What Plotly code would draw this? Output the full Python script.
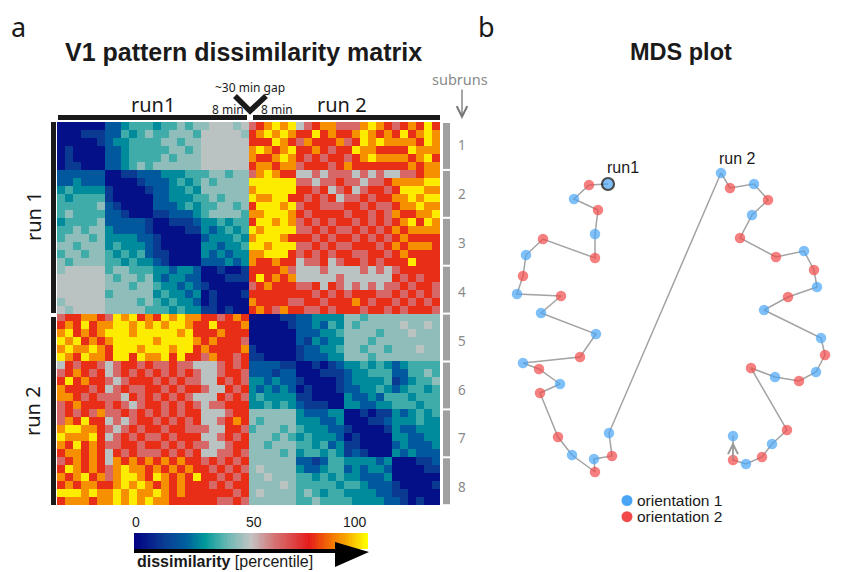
import plotly.graph_objects as go

# browser page has an 8px body margin: the figure is offset by it
PAGE_W, PAGE_H, OFF = 866, 572, 8
W, H = PAGE_W - 2 * OFF, PAGE_H - OFF

# ---------------- data ----------------
# percentile value for each colour code read from the matrix cells
LEVEL = {'0': 3, '1': 12, '2': 20, '3': 28, '4': 36, '5': 44, '6': 49,
         '7': 62, '8': 77, '9': 88, 'y': 98}

# lower triangle of the symmetric 48x48 dissimilarity matrix (row i: cols 0..i)
RUN1_RUN1 = [
    "0", "00", "000", "0100", "01000", "011000",
    "222222 0", "223222 00", "343333 100", "434444 1000", "444445 21000", "454444 221000",
    "344445 222221 0", "445455 322221 00", "455545 333322 100", "554555 343332 1000",
    "455455 434342 11000", "545555 443433 210000",
    "566666 455444 332332 0", "666666 545545 323322 00", "666666 555455 433232 100",
    "666666 455555 343323 0100", "566666 555545 434332 01000", "656666 555554 443433 110100",
]
RUN2_RUN1 = [
    "788998 7y9y89 8y9y99 887898",
    "898y89 9yy9y9 y9yy98 8y8889",
    "9y8989 yyy9yy yyy9y8 889888",
    "y9y898 9yyyyy 9yyyy9 898887",
    "9y99y9 8yyy9y yy9yy8 988889",
    "y98y99 8yy8y9 9y8y88 798878",
    "687887 678878 778776 667878",
    "789878 678787 878787 667887",
    "8y8988 767888 787877 668787",
    "988878 678778 878788 766878",
    "998787 776878 787876 668787",
    "789888 787678 878787 677888",
    "787879 778787 878788 666788",
    "798y88 676788 787878 667898",
    "9yy998 767878 878877 766887",
    "y999y8 678787 787888 667878",
    "98y898 778878 878787 766788",
    "899898 687877 787878 667787",
    "789898 698989 898988 787878",
    "8y9898 79y998 989898 878787",
    "989y89 79yy98 y9898y 887878",
    "898998 89y9y9 898988 878788",
    "yyy9y9 9y9y99 y98988 888878",
    "899989 9y9y9y 998888 887787",
]
RUN2_RUN2 = [
    "0", "00", "000", "0000", "10000", "110000",
    "222211 0", "222122 00", "332322 100", "323232 0100", "343333 11000", "334343 211100",
    "555555 322233 0", "545555 333223 00", "455545 433322 100", "555454 343332 0100",
    "554555 443423 11000", "555545 344343 121000",
    "555555 221244 333323 0", "565555 322344 232332 00", "556555 443434 332223 000",
    "555565 444443 443222 1000", "565555 454344 333322 11000", "555555 445444 433332 210100",
]
SUBRUN_LABELS = ["1", "2", "3", "4", "5", "6", "7", "8"]
CBAR_TICKS = ["0", "50", "100"]

# MDS coordinates (arbitrary units), in temporal order; orientation 1 / 2
MDS_X = [-0.62, -0.81, -0.96, -0.72, -0.75, -0.75, -1.27, -1.44, -1.47, -1.53, -1.09, -1.29,
         -0.74, -0.90, -1.47, -1.31, -1.10, -1.30, -1.12, -0.98, -0.75, -0.76, -0.58, -0.61,
         0.51, 0.60, 0.84, 0.98, 0.82, 0.70, 1.06, 1.34, 1.44, 1.47, 1.18, 0.94,
         1.51, 1.55, 1.46, 1.29, 1.05, 0.81, 1.17, 1.02, 0.92, 0.76, 0.63, 0.63]
MDS_Y = [1.36, 1.35, 1.21, 1.10, 0.86, 0.62, 0.81, 0.65, 0.44, 0.26, 0.24, 0.07,
         -0.14, -0.37, -0.43, -0.49, -0.64, -0.73, -1.17, -1.35, -1.52, -1.39, -1.36, -1.13,
         1.47, 1.32, 1.36, 1.20, 1.05, 0.82, 0.63, 0.69, 0.50, 0.33, 0.23, 0.10,
         -0.18, -0.35, -0.52, -0.61, -0.57, -0.48, -1.10, -1.24, -1.37, -1.44, -1.40, -1.16]
ORIENT = [1, 2, 1, 2, 1, 2, 2, 1, 2, 1, 2, 1] * 4

# ---------------- build matrix ----------------
lower = [s.replace(" ", "") for s in RUN1_RUN1] + \
        [(a + b).replace(" ", "") for a, b in zip(RUN2_RUN1, RUN2_RUN2)]
N = len(lower)
Z = [[LEVEL[lower[max(i, j)][min(i, j)]] for j in range(N)] for i in range(N)]

CSCALE = [[0.0, '#020285'], [0.12, '#0a3a92'], [0.22, '#00609e'], [0.30, '#00999b'],
          [0.40, '#6bb8b4'], [0.50, '#c4c4c4'], [0.60, '#d47474'], [0.75, '#e51c1c'],
          [0.85, '#f47800'], [0.92, '#f8b000'], [1.0, '#ffff00']]


def X(p):
    return (p - OFF) / W


def Y(p):
    return 1 - (p - OFF) / H


fig = go.Figure()
fig.add_trace(go.Heatmap(z=Z, x=list(range(N)), y=list(range(N)), colorscale=CSCALE,
                         zmin=0, zmax=100, showscale=False, xaxis='x', yaxis='y',
                         hoverinfo='skip'))
ramp = list(range(0, 101))
fig.add_trace(go.Heatmap(z=[ramp], x=ramp, y=[0], colorscale=CSCALE, zmin=0, zmax=100,
                         showscale=False, xaxis='x3', yaxis='y3', hoverinfo='skip'))

# MDS
fig.add_trace(go.Scatter(x=MDS_X, y=MDS_Y, mode='lines', xaxis='x2', yaxis='y2',
                         line=dict(color='#a3a3a3', width=1.5), hoverinfo='skip'))
BLUE, RED = '#4aa5f7', '#f24a4a'
for o, col in [(1, BLUE), (2, RED)]:
    idx = [k for k in range(len(MDS_X)) if ORIENT[k] == o]
    fig.add_trace(go.Scatter(
        x=[MDS_X[k] for k in idx], y=[MDS_Y[k] for k in idx], mode='markers',
        xaxis='x2', yaxis='y2',
        marker=dict(color=col, size=[12 if k == 0 else 10.5 for k in idx],
                    line=dict(color='black', width=[2.2 if k == 0 else 0 for k in idx]))))

ax_hidden = dict(visible=False, showgrid=False, zeroline=False, fixedrange=True)
fig.update_layout(
    width=W, height=H, margin=dict(l=0, r=0, t=0, b=0),
    paper_bgcolor='white', plot_bgcolor='white', showlegend=False,
    font=dict(family='Liberation Sans', color='#1a1a1a'),
    xaxis=dict(domain=[X(57), X(440)], range=[-0.5, N - 0.5], **ax_hidden),
    yaxis=dict(domain=[Y(505), Y(122)], range=[N - 0.5, -0.5], **ax_hidden),
    xaxis2=dict(domain=[X(500), X(840)], range=[-1.7, 1.7], **ax_hidden),
    yaxis2=dict(domain=[Y(480), Y(160)], range=[-1.6, 1.6], **ax_hidden),
    xaxis3=dict(domain=[X(134), X(368)], range=[-0.5, 100.5], **ax_hidden),
    yaxis3=dict(domain=[Y(549), Y(533)], range=[-0.5, 0.5], **ax_hidden),
)

shapes = []
# top run bars
shapes.append(dict(type='rect', xref='paper', yref='paper', x0=X(58), x1=X(247), y0=Y(120), y1=Y(115),
                   fillcolor='#1a1a1a', line_width=0))
shapes.append(dict(type='rect', xref='paper', yref='paper', x0=X(253), x1=X(440), y0=Y(120), y1=Y(115),
                   fillcolor='#1a1a1a', line_width=0))
# left run bars
shapes.append(dict(type='rect', xref='paper', yref='paper', x0=X(51), x1=X(56), y0=Y(313), y1=Y(122),
                   fillcolor='#1a1a1a', line_width=0))
shapes.append(dict(type='rect', xref='paper', yref='paper', x0=X(51), x1=X(56), y0=Y(505), y1=Y(317),
                   fillcolor='#1a1a1a', line_width=0))
# chevron
shapes.append(dict(type='path', xref='paper', yref='paper',
                   path=f"M {X(235)},{Y(96)} L {X(250)},{Y(111)} L {X(266)},{Y(96)}",
                   line=dict(color='#1a1a1a', width=5.5)))
# subrun gray bars
for k in range(8):
    shapes.append(dict(type='rect', xref='paper', yref='paper', x0=X(443), x1=X(450),
                       y0=Y(122 + 47.9 * (k + 1) - 1), y1=Y(122 + 47.9 * k + 1),
                       fillcolor='#a0a0a0', line_width=0))
# colorbar wedge
shapes.append(dict(type='path', xref='paper', yref='paper',
                   path=(f"M {X(134)},{Y(549)} L {X(335)},{Y(549)} L {X(335)},{Y(542)} "
                         f"L {X(369)},{Y(552)} L {X(335)},{Y(567)} L {X(335)},{Y(553)} "
                         f"L {X(134)},{Y(553)} Z"),
                   fillcolor='black', line_width=0))
# legend swatches
for yy, col in [(500.5, BLUE), (516.7, RED)]:
    shapes.append(dict(type='circle', xref='paper', yref='paper', x0=X(621.5), x1=X(632.5),
                       y0=Y(yy + 5.5), y1=Y(yy - 5.5), fillcolor=col, line_width=0))
fig.update_layout(shapes=shapes)

ann = []


def A(text, x, y, size, color='#1a1a1a', family='Liberation Sans', xanchor='center', angle=0):
    ann.append(dict(text=text, x=X(x), y=Y(y), xref='paper', yref='paper', showarrow=False,
                    xanchor=xanchor, yanchor='middle', textangle=angle,
                    font=dict(size=size, color=color, family=family)))


A('a', 18, 27, 27, family='Noto Sans')
A('b', 487, 27, 27, family='Noto Sans')
A('<b>V1 pattern dissimilarity matrix</b>', 243, 52, 25)
A('<b>MDS plot</b>', 681, 52, 23.5)
A('run1', 153, 104, 20, family='Noto Sans')
A('run 2', 342, 104, 20, family='Noto Sans')
A('8 min', 228, 109, 12, family='Noto Sans')
A('8 min', 277, 109, 12, family='Noto Sans')
A('~30 min gap', 250, 87, 12, family='Noto Sans')
A('subruns', 460, 79, 14.5, color='#8a8a8a', family='Noto Sans')
for k, lab in enumerate(SUBRUN_LABELS):
    A(lab, 462, 145 + 48.9 * k, 13.5, color='#8a8a8a', family='Noto Sans')
A('run 1', 33, 216, 20, family='Noto Sans', angle=-90)
A('run 2', 33, 411, 20, family='Noto Sans', angle=-90)
A(CBAR_TICKS[0], 136, 522, 14)
A(CBAR_TICKS[1], 254, 522, 14)
A(CBAR_TICKS[2], 369, 522, 14, xanchor='right')
A('<b>dissimilarity</b> [percentile]', 135, 561, 16, xanchor='left')
A('run1', 623, 168, 16)
A('run 2', 737, 158, 16)
A('orientation 1', 635, 500.5, 15.5, xanchor='left')
A('orientation 2', 635, 516.7, 15.5, xanchor='left')

# subruns arrow
ann.append(dict(x=X(462), y=Y(119), xref='paper', yref='paper', ax=0, ay=-31,
                axref='pixel', ayref='pixel', showarrow=True, arrowhead=5, arrowsize=1.6,
                arrowwidth=1.3, arrowcolor='#777777', text=''))
# end-of-run2 arrow
ann.append(dict(x=MDS_X[-1], y=MDS_Y[-1], xref='x2', yref='y2', ax=MDS_X[-2], ay=MDS_Y[-2],
                axref='x2', ayref='y2', showarrow=True, arrowhead=5, arrowsize=1.3,
                arrowwidth=1.5, arrowcolor='#999999', standoff=6, text=''))
fig.update_layout(annotations=ann)

fig.write_html("out.html")
